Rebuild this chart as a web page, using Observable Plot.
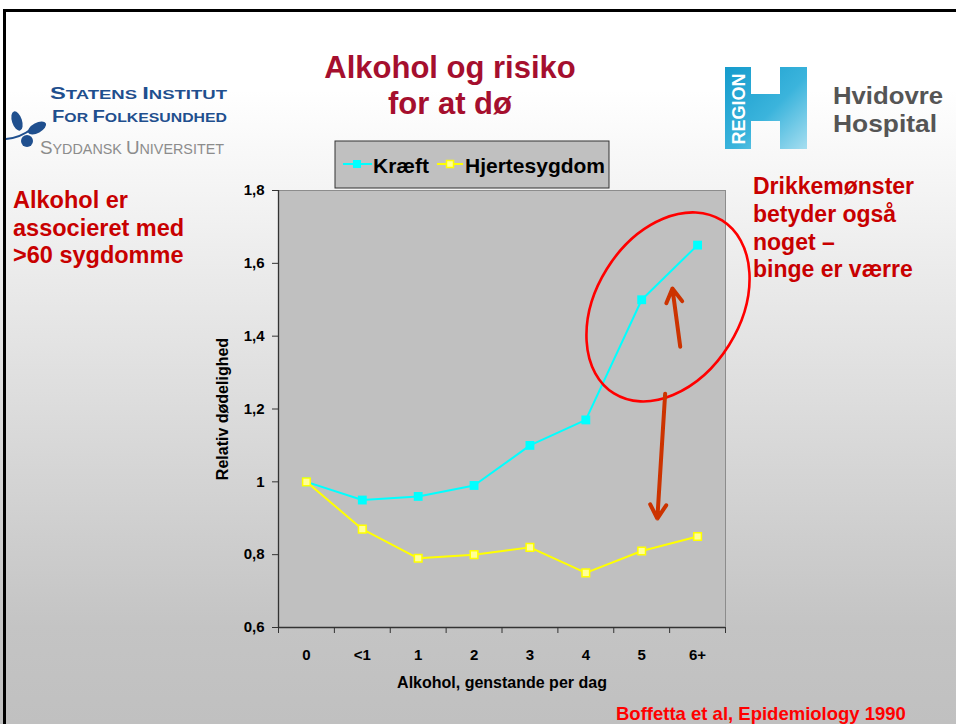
<!DOCTYPE html>
<html><head><meta charset="utf-8">
<script src="https://cdn.jsdelivr.net/npm/d3@7"></script>
<script src="https://cdn.jsdelivr.net/npm/@observablehq/plot@0.6"></script>
<style>
body{margin:0;}
#slide{position:relative;width:956px;height:724px;overflow:hidden;font-family:"Liberation Sans",Arial,sans-serif;
background:linear-gradient(to bottom,#ffffff 0px,#ffffff 90px,#f4f4f4 190px,#c4c4c4 627px,#c0c0c0 724px);}
.abs{position:absolute;}
#topbar{left:3px;right:0;top:9px;height:3px;background:#000;}
#leftbar{left:3px;top:9px;bottom:0;width:3px;background:#000;}
#title{left:290px;width:320px;top:50.3px;text-align:center;font-size:31px;line-height:36px;font-weight:bold;color:#a50f2e;white-space:nowrap;}
#lefttext{left:13px;top:187px;font-size:23.5px;line-height:27.5px;font-weight:bold;color:#c80000;white-space:nowrap;}
#righttext{left:753px;top:173.2px;font-size:23px;line-height:27.7px;font-weight:bold;color:#c80000;white-space:nowrap;}
#caption{left:616px;top:703.6px;font-size:18.5px;line-height:20px;font-weight:bold;color:#ff0000;white-space:nowrap;}
#plot{left:0;top:0;}
#overlay{left:0;top:0;pointer-events:none;}
</style></head>
<body>
<div id="slide">
  <div id="plot" class="abs"></div>
  <div id="topbar" class="abs"></div>
  <div id="leftbar" class="abs"></div>
  <div id="title" class="abs">Alkohol og risiko<br>for at dø</div>
  <div id="lefttext" class="abs">Alkohol er<br>associeret med<br>&gt;60 sygdomme</div>
  <div id="righttext" class="abs">Drikkemønster<br>betyder også<br>noget –<br>binge er værre</div>
  <div id="caption" class="abs">Boffetta et al, Epidemiology 1990</div>
  <svg id="overlay" class="abs" width="956" height="724" font-family="Liberation Sans, Arial, sans-serif">
    <defs>
      <linearGradient id="hg" x1="0" y1="0" x2="1" y2="1">
        <stop offset="0" stop-color="#159bcc"/>
        <stop offset="0.55" stop-color="#3bb4dc"/>
        <stop offset="1" stop-color="#a6def0"/>
      </linearGradient>
    </defs>
    <!-- Statens Institut logo -->
    <g fill="#1f4f8e">
      <ellipse cx="17" cy="121" rx="5" ry="10" transform="rotate(-18 17 121)"/>
      <ellipse cx="37" cy="128" rx="10" ry="5" transform="rotate(-28 37 128)"/>
      <circle cx="27" cy="141" r="6"/>
      <path d="M6 139 Q20 138 33 128" fill="none" stroke="#1f4f8e" stroke-width="2.2"/>
    </g>
    <text x="50" y="99" fill="#1f4f8e" font-size="16" font-weight="600" textLength="177" lengthAdjust="spacingAndGlyphs"><tspan>S</tspan><tspan font-size="12.5">TATENS </tspan><tspan>I</tspan><tspan font-size="12.5">NSTITUT</tspan></text>
    <text x="52" y="122" fill="#1f4f8e" font-size="16" font-weight="600" textLength="175" lengthAdjust="spacingAndGlyphs"><tspan>F</tspan><tspan font-size="12.5">OR </tspan><tspan>F</tspan><tspan font-size="12.5">OLKESUNDHED</tspan></text>
    <text x="40" y="154" fill="#8c8c8c" font-size="19" textLength="184" lengthAdjust="spacingAndGlyphs"><tspan>S</tspan><tspan font-size="14.5">YDDANSK </tspan><tspan>U</tspan><tspan font-size="14.5">NIVERSITET</tspan></text>
    <!-- Region H logo -->
    <path d="M725 67 H751 V94 H780 V67 H807 V149 H780 V121 H751 V149 H725 Z" fill="url(#hg)"/>
    <text transform="translate(744.5,109) rotate(-90)" text-anchor="middle" fill="#ffffff" font-size="18" font-weight="bold">REGION</text>
    <text x="833" y="104" fill="#555555" font-size="24" font-weight="bold" textLength="110" lengthAdjust="spacingAndGlyphs">Hvidovre</text>
    <text x="833" y="132" fill="#555555" font-size="24" font-weight="bold" textLength="104" lengthAdjust="spacingAndGlyphs">Hospital</text>
    <!-- Legend -->
    <rect x="335" y="141" width="274" height="47" fill="#c0c0c0" stroke="#333333" stroke-width="1"/>
    <line x1="343" y1="164" x2="372" y2="164" stroke="#00ffff" stroke-width="2"/>
    <rect x="353" y="160" width="8" height="8" fill="#00ffff"/>
    <text x="373" y="173" font-size="21" font-weight="bold" fill="#000">Kræft</text>
    <line x1="437" y1="164" x2="463" y2="164" stroke="#ffff00" stroke-width="2"/>
    <rect x="446.5" y="160.5" width="7" height="7" fill="#ffff99" stroke="#ffff00" stroke-width="1.5"/>
    <text x="465" y="173" font-size="21" font-weight="bold" fill="#000">Hjertesygdom</text>
  </svg>
</div>
<script>
// ---- data ----
const categories = ["0", "<1", "1", "2", "3", "4", "5", "6+"];
const kraeft = [1.00, 0.95, 0.96, 0.99, 1.10, 1.17, 1.50, 1.65];
const hjerte = [1.00, 0.87, 0.79, 0.80, 0.82, 0.75, 0.81, 0.85];
const yTicks = [0.6, 0.8, 1, 1.2, 1.4, 1.6, 1.8];
const yLabel = "Relativ dødelighed";
const xLabel = "Alkohol, genstande per dag";
// annotation anchors in data coordinates (x = category index)
const ellipseCenters = [{x: 6.48, y: 1.479}];
const arrowsData = [
  {x1: 6.69, y1: 1.371, x2: 6.55, y2: 1.531},
  {x1: 6.42, y1: 1.242, x2: 6.28, y2: 0.899}
];

const kData = categories.map((c, i) => ({i, c, v: kraeft[i]}));
const hData = categories.map((c, i) => ({i, c, v: hjerte[i]}));
const centers = categories.map((_, i) => i);
const bounds = categories.map((_, i) => i - 0.5).concat([categories.length - 0.5]);

const ellipseMark = (index, scales) => {
  const g = d3.create("svg:g");
  for (const e of ellipseCenters) {
    g.append("ellipse")
      .attr("cx", 0).attr("cy", 0).attr("rx", 102).attr("ry", 72)
      .attr("transform", `translate(${scales.x(e.x)},${scales.y(e.y)}) rotate(-58)`)
      .attr("fill", "none").attr("stroke", "#ff0000").attr("stroke-width", 2.6);
  }
  return g.node();
};

const chart = Plot.plot({
  width: 956,
  height: 724,
  marginLeft: 278,
  marginRight: 231,
  marginTop: 190,
  marginBottom: 97,
  style: {background: "transparent", overflow: "visible", color: "#000", fontFamily: "Liberation Sans, Arial, sans-serif"},
  x: {type: "linear", domain: [-0.5, categories.length - 0.5]},
  y: {domain: [0.6, 1.8]},
  marks: [
    Plot.frame({fill: "#c0c0c0", stroke: "#8c8c8c"}),
    Plot.ruleX([-0.5], {stroke: "#333333", strokeWidth: 1.3}),
    Plot.ruleY([0.6], {stroke: "#333333", strokeWidth: 1.3}),
    Plot.line(kData, {x: "i", y: "v", stroke: "#00ffff", strokeWidth: 2}),
    Plot.line(hData, {x: "i", y: "v", stroke: "#ffff00", strokeWidth: 2}),
    Plot.dot(kData, {x: "i", y: "v", symbol: "square", r: 5, fill: "#00ffff"}),
    Plot.dot(hData, {x: "i", y: "v", symbol: "square", r: 4.3, fill: "#ffff99", stroke: "#ffff00", strokeWidth: 1.5}),
    ellipseMark,
    Plot.arrow(arrowsData, {x1: "x1", y1: "y1", x2: "x2", y2: "y2", stroke: "#cc3300", strokeWidth: 4, headLength: 6, headAngle: 60}),
    Plot.axisY({ticks: yTicks, tickFormat: d => String(d).replace(".", ","), tickSize: 6, tickPadding: 8, fontSize: 15, fontWeight: "bold", label: null, stroke: "#333333"}),
    Plot.axisX({ticks: bounds, tickFormat: () => "", tickSize: 6, label: null, stroke: "#333333"}),
    Plot.axisX({ticks: centers, tickFormat: i => categories[i], tickSize: 0, tickPadding: 22, fontSize: 15, fontWeight: "bold", label: null}),
    Plot.text([yLabel], {frameAnchor: "left", dx: -56, rotate: -90, textAnchor: "middle", lineAnchor: "middle", fontSize: 16, fontWeight: "bold", fill: "#000"}),
    Plot.text([xLabel], {frameAnchor: "bottom", dy: 55, textAnchor: "middle", lineAnchor: "middle", fontSize: 16, fontWeight: "bold", fill: "#000"})
  ]
});
document.getElementById("plot").appendChild(chart);
</script>
</body></html>
